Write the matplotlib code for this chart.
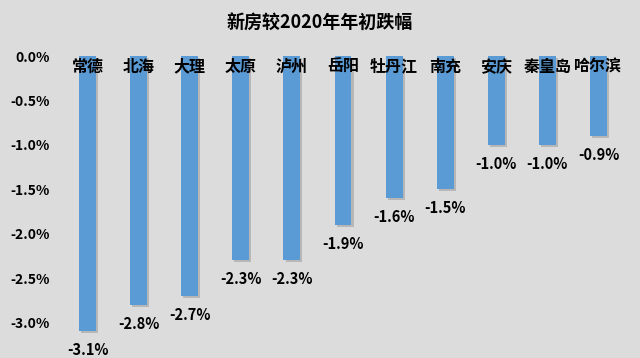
import matplotlib
matplotlib.use("Agg")
import matplotlib.pyplot as plt
import matplotlib.patheffects as pe
from matplotlib.ticker import FuncFormatter

plt.rcParams['font.family'] = ['Noto Sans CJK SC', 'DejaVu Sans']

cities = ["常德", "北海", "大理", "太原", "泸州", "岳阳", "牡丹江", "南充", "安庆", "秦皇岛", "哈尔滨"]
values = [-3.1, -2.8, -2.7, -2.3, -2.3, -1.9, -1.6, -1.5, -1.0, -1.0, -0.9]
yticks = [0.0, -0.5, -1.0, -1.5, -2.0, -2.5, -3.0]
title = "新房较2020年年初跌幅"

bg = "#dcdcdc"
fig = plt.figure(figsize=(6.4, 3.58), dpi=100, facecolor=bg)
ax = fig.add_axes([62/640, 0, 562/640, 1 - 56/358])
ax.set_facecolor(bg)

x = list(range(len(cities)))
bars = ax.bar(x, values, width=0.33, color="#5b9bd5", zorder=3)
for b in bars:
    b.set_path_effects([pe.SimplePatchShadow(offset=(1.5, -1.5), shadow_rgbFace="#8a8a8a", alpha=0.45), pe.Normal()])

ax.set_xlim(-0.5, len(cities) - 0.5)
ax.set_ylim(-3.4, 0)
ax.set_yticks(yticks)
ax.yaxis.set_major_formatter(FuncFormatter(lambda v, p: f"{v:.1f}%"))
ax.tick_params(axis='y', length=0, pad=9, labelsize=10)
for lbl in ax.get_yticklabels():
    lbl.set_fontweight('bold')
ax.set_xticks([])
for s in ax.spines.values():
    s.set_visible(False)

for xi, c in zip(x, cities):
    ax.text(xi, -0.12, c, ha='center', va='center', fontsize=11.5, fontweight='bold', zorder=5)

for xi, v in zip(x, values):
    ax.annotate(f"{v:.1f}%", (xi, v), xytext=(0, -11), textcoords='offset pixels',
                ha='center', va='top', fontsize=10.5, fontweight='bold')

fig.text(0.5, 1 - 23/358, title, ha='center', va='center', fontsize=13, fontweight='bold')

fig.savefig("out.png", dpi=100, facecolor=bg)
